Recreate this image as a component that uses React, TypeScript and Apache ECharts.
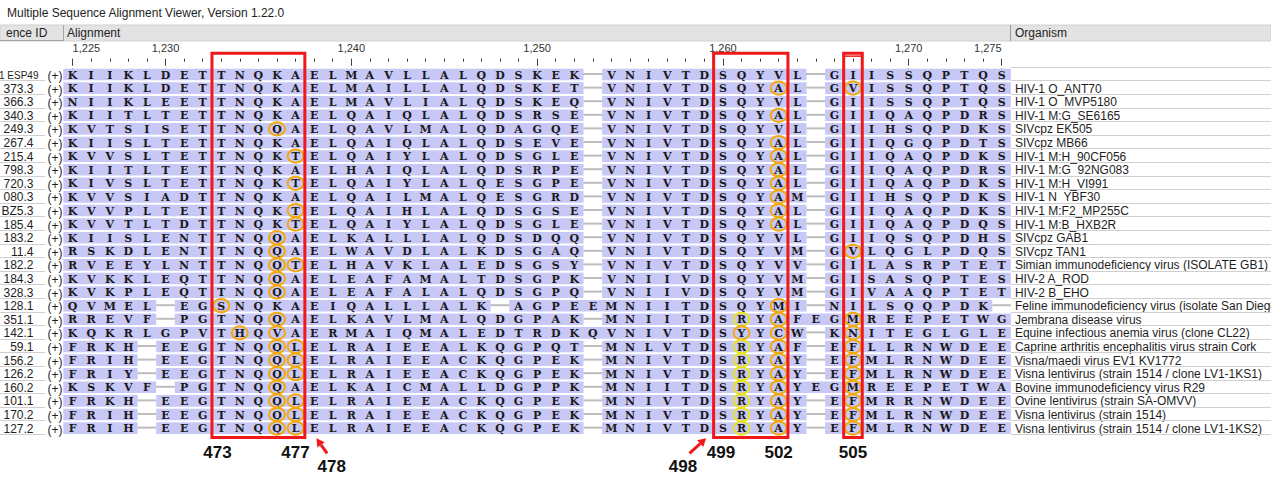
import React, { useEffect, useRef } from 'react';
import * as echarts from 'echarts';

// ---------------- data ----------------
const TITLE = 'Multiple Sequence Alignment Viewer, Version 1.22.0';
const FIRST_POS = 1225;
const LAST_POS = 1275;
const RULER_LABELS = [1225, 1230, 1240, 1250, 1260, 1270, 1275];

const SEQ_IDS = [
  '1 ESP49', '373.3', '366.3', '340.3', '249.3', '267.4', '215.4', '798.3', '720.3',
  '080.3', 'BZ5.3', '185.4', '183.2', '11.4', '182.2', '184.3', '328.3', '128.1',
  '351.1', '142.1', '59.1', '156.2', '126.2', '160.2', '101.1', '170.2', '127.2',
];

const ORGANISMS = [
  '',
  'HIV-1 O_ANT70',
  'HIV-1 O_MVP5180',
  'HIV-1 M:G_SE6165',
  'SIVcpz EK505',
  'SIVcpz MB66',
  'HIV-1 M:H_90CF056',
  'HIV-1 M:G_92NG083',
  'HIV-1 M:H_VI991',
  'HIV-1 N_YBF30',
  'HIV-1 M:F2_MP255C',
  'HIV-1 M:B_HXB2R',
  'SIVcpz GAB1',
  'SIVcpz TAN1',
  'Simian immunodeficiency virus (ISOLATE GB1)',
  'HIV-2 A_ROD',
  'HIV-2 B_EHO',
  'Feline immunodeficiency virus (isolate San Diego)',
  'Jembrana disease virus',
  'Equine infectious anemia virus (clone CL22)',
  'Caprine arthritis encephalitis virus strain Cork',
  'Visna/maedi virus EV1 KV1772',
  'Visna lentivirus (strain 1514 / clone LV1-1KS1)',
  'Bovine immunodeficiency virus R29',
  'Ovine lentivirus (strain SA-OMVV)',
  'Visna lentivirus (strain 1514)',
  'Visna lentivirus (strain 1514 / clone LV1-1KS2)',
];

const SEQUENCES = [
  'KIIKLDET TNQKA ELMAVLLALQDSKEK - VNIVTD SQYV L - G I ISSQPTQS',
  'KIIKLDET TNQKA ELMAILLALQDSKET - VNIVTD SQYA L - G V ISSQPTQS',
  'NIIKLEET TNQKA ELMAVLIALQDSKEQ - VNIVTD SQYV L - G I ISSQPTQS',
  'KIITLTET TNQKA ELQAIQLALQDSRSE - VNIVTD SQYA L - G I IQAQPDRS',
  'KVTSISET TNQQA ELQAVLMALQDAGQE - VNIVTD SQYV L - G I IHSQPDKS',
  'KIISLTET TNQKA ELQAIQLALQDSEVE - VNIVTD SQYA L - G I IQGQPDTS',
  'KVVSLTET TNQKT ELQAIYLALQDSGLE - VNIVTD SQYA L - G I IQAQPDKS',
  'KIITLTET TNQKA ELHAIQLALQDSRPE - VNIVTD SQYA L - G I IQAQPDRS',
  'KIVSLTET TNQKT ELQAIYLALQESGPE - VNIVTD SQYA L - G I IQAQPDKS',
  'KVVSIADT TNQKA ELQAILMALQESGRD - VNIVTD SQYA M - G I IHSQPDKS',
  'KVVPLTET TNQKT ELQAIHLALQDSGSE - VNIVTD SQYA L - G I IQAQPDKS',
  'KVVTLTDT TNQKT ELQAIYLALQDSGLE - VNIVTD SQYA L - G I IQAQPDQS',
  'KIISLENT TNQQA ELKALLLALQDSDQQ - VNIVTD SQYV L - G I IQSQPDHS',
  'RSKDLENT TNQQA ELWAVDLALKDSGAQ - VNIVTD SQYV M - G V LQGLPDQS',
  'RVEEYLNT TNQQT ELHAVKLALEDSGSY - VNIVTD SQYV V - G I LASRPTET',
  'KVKKLEQT TNQQA ELEAFAMALTDSGPK - VNIIVD SQYV M - G I SASQPTES',
  'KVKPLEQT TNQQA ELEAFALALQDSGPQ - VNIIVD SQYV M - G I VAAQPTET',
  'QVMEL-EG SNQKA EIQALLLALK-AGPE E MNIITD SQYM I - N I LSQQPDK-',
  'RREVF-PG TNQQA ELKAVLMALQDGPAK - MNIITD SRYA F E G M REEPETWG',
  'KQKRLGPV THQVA ERMAIQMALEDTRDK Q VNIVTD SYYC W - K N ITEGLGLE',
  'FRKH-EEG TNQQL ELRAIEEALKQGPQT - MNLVTD SRYA F - E F LLRNWDEE',
  'FRIH-EEG TNQQL ELRAIEEACKQGPEK - MNIVTD SRYA Y - E F MLRNWDEE',
  'FRIY-EEG TNQQL ELRAIEEACKQGPEK - MNIVTD SRYA Y - E F MLRNWDEE',
  'KSKVF-PG TNQQA ELKAICMALLDGPPK - MNIITD SRYA Y E G M REEPETWA',
  'FRKH-EEG TNQQL ELRAIEEACKQGPEK - MNIVTD SRYA Y - E F MRRNWDEE',
  'FRIH-EEG TNQQL ELRAIEEACKQGPEK - MNIVTD SRYA Y - E F MLRNWDEE',
  'FRIH-EEG TNQQL ELRAIEEACKQGPEK - MNIVTD SRYA Y - E F MLRNWDEE',
].map((s) => s.replace(/ /g, ''));

// [row, alignment position, kind]  o = orange ring, y = yellow ring
const HIGHLIGHTS: [number, number, string][] = [
  [1, 1263, 'o'], [1, 1267, 'o'],
  [3, 1263, 'o'],
  [4, 1236, 'o'],
  [5, 1263, 'o'],
  [6, 1237, 'o'], [6, 1263, 'o'],
  [7, 1263, 'o'],
  [8, 1237, 'o'], [8, 1263, 'o'],
  [9, 1263, 'o'],
  [10, 1237, 'o'], [10, 1263, 'o'],
  [11, 1237, 'o'], [11, 1263, 'o'],
  [12, 1236, 'o'],
  [13, 1236, 'o'], [13, 1267, 'o'],
  [14, 1236, 'o'], [14, 1237, 'o'],
  [15, 1236, 'o'],
  [16, 1236, 'o'],
  [17, 1233, 'o'], [17, 1263, 'o'],
  [18, 1236, 'o'], [18, 1261, 'y'], [18, 1263, 'o'], [18, 1267, 'o'],
  [19, 1234, 'o'], [19, 1236, 'o'], [19, 1261, 'o'], [19, 1263, 'o'], [19, 1267, 'o'],
  [20, 1236, 'o'], [20, 1237, 'o'], [20, 1261, 'y'], [20, 1263, 'o'], [20, 1267, 'o'],
  [21, 1236, 'o'], [21, 1237, 'o'], [21, 1261, 'y'], [21, 1263, 'o'], [21, 1267, 'o'],
  [22, 1236, 'o'], [22, 1237, 'o'], [22, 1261, 'y'], [22, 1263, 'o'], [22, 1267, 'o'],
  [23, 1236, 'o'], [23, 1261, 'y'], [23, 1263, 'o'], [23, 1267, 'o'],
  [24, 1236, 'o'], [24, 1237, 'o'], [24, 1261, 'y'], [24, 1263, 'o'], [24, 1267, 'o'],
  [25, 1236, 'o'], [25, 1237, 'o'], [25, 1261, 'y'], [25, 1263, 'o'], [25, 1267, 'o'],
  [26, 1236, 'o'], [26, 1237, 'o'], [26, 1261, 'y'], [26, 1263, 'o'], [26, 1267, 'o'],
];

// highlighted blocks: [first position, last position]
const BOXES: [number, number][] = [[1233, 1237], [1260, 1263], [1267, 1267]];
const BOX_TOP_ROW = -1.57;
const BOX_BOTTOM_ROW = 26.7;

// residue-number annotations: [alignment position, row level, text]
const NUMBER_LABELS: [number, number, string][] = [
  [1232.8, 27.8, '473'],
  [1237, 27.8, '477'],
  [1238.95, 28.85, '478'],
  [1257.85, 28.85, '498'],
  [1259.9, 27.8, '499'],
  [1263, 27.8, '502'],
  [1267, 27.8, '505'],
];
// arrows: [tail pos, tail row, tip pos, tip row]
const ARROWS: [number, number, number, number][] = [
  [1238.7, 27.85, 1238.12, 26.75],
  [1258.2, 27.85, 1259.1, 26.75],
];

// ---------------- helpers ----------------
const SANS = '"Liberation Sans", Arial, Helvetica, sans-serif';
const SEQ_FONT = '"DejaVu Serif", serif';
const BAND = '#c8c8f7';
const RED = '#f01818';
const ORANGE = '#f4a90a';
const YELLOW = '#e9e31c';

function runsOf(seq: string, wantGap: boolean): [number, number][] {
  const out: [number, number][] = [];
  let s = -1;
  for (let i = 0; i <= seq.length; i++) {
    const match = i < seq.length && (seq[i] === '-') === wantGap;
    if (match && s < 0) s = i;
    if (!match && s >= 0) {
      out.push([s, i - 1]);
      s = -1;
    }
  }
  return out;
}

const bandData: number[][] = [];
const gapData: number[][] = [];
const letterData: number[][] = [];
const letterChars: string[] = [];
SEQUENCES.forEach((seq, r) => {
  runsOf(seq, false).forEach(([a, b]) => bandData.push([FIRST_POS + a, FIRST_POS + b, r]));
  runsOf(seq, true).forEach(([a, b]) => gapData.push([FIRST_POS + a, FIRST_POS + b, r]));
  for (let c = 0; c < seq.length; c++) {
    if (seq[c] !== '-') {
      letterData.push([FIRST_POS + c, r]);
      letterChars.push(seq[c]);
    }
  }
});
const rowData = SEQ_IDS.map((_, r) => [FIRST_POS, r]);

export default function App() {
  const ref = useRef<HTMLDivElement>(null);

  useEffect(() => {
    if (!ref.current) return;
    const chart = echarts.init(ref.current, undefined, { renderer: 'svg' });

    const unit = (api: any) => {
      const s = api.size([1, 1]);
      return [Math.abs(s[0]), Math.abs(s[1])];
    };

    const option: any = {
      animation: false,
      grid: {
        left: 72.6,
        top: 67.7,
        width: 929,
        height: 367.2,
        containLabel: false,
        outerBoundsMode: 'none',
      },
      xAxis: [
        {
          type: 'value',
          min: FIRST_POS,
          max: LAST_POS,
          position: 'top',
          offset: 6,
          axisLine: { show: true, lineStyle: { color: '#3a3a3a', width: 1 } },
          axisTick: { show: true, length: 6, customValues: RULER_LABELS, lineStyle: { color: '#3a3a3a' } },
          axisLabel: {
            show: true,
            customValues: RULER_LABELS,
            margin: 8,
            fontSize: 11,
            color: '#333',
            fontFamily: SANS,
            alignMinLabel: 'left',
            alignMaxLabel: 'right',
            formatter: (v: number) => v.toLocaleString('en-US'),
          },
          splitLine: { show: false },
        },
        {
          type: 'value',
          min: FIRST_POS,
          max: LAST_POS,
          interval: 1,
          position: 'top',
          offset: 6,
          axisLine: { show: false },
          axisTick: { show: true, length: 3, lineStyle: { color: '#3a3a3a' } },
          axisLabel: { show: false },
          splitLine: { show: false },
        },
        {
          type: 'value',
          min: FIRST_POS,
          max: LAST_POS,
          position: 'top',
          offset: 6,
          axisLine: { show: false },
          axisTick: { show: true, inside: true, length: 4, customValues: RULER_LABELS, lineStyle: { color: '#3a3a3a' } },
          axisLabel: { show: false },
          splitLine: { show: false },
        },
      ],
      yAxis: { type: 'value', min: -0.5, max: SEQUENCES.length - 0.5, inverse: true, show: false },
      graphic: {
        elements: [
          {
            type: 'text', x: 7, y: 13,
            style: { text: TITLE, fontSize: 12, fontFamily: SANS, fill: '#1e1e1e', verticalAlign: 'middle' },
          },
          { type: 'rect', shape: { x: 0, y: 25, width: 1271, height: 16 }, style: { fill: '#e3e3e3', stroke: '#d0d0d0', lineWidth: 1 } },
          { type: 'line', shape: { x1: 63.5, y1: 25, x2: 63.5, y2: 41 }, style: { stroke: '#a6a6a6', lineWidth: 1 } },
          { type: 'line', shape: { x1: 0, y1: 40.5, x2: 63, y2: 40.5 }, style: { stroke: '#a6a6a6', lineWidth: 1 } },
          { type: 'line', shape: { x1: 1010.5, y1: 25, x2: 1010.5, y2: 41 }, style: { stroke: '#9a9a9a', lineWidth: 1 } },
          { type: 'text', x: 6, y: 33, style: { text: 'ence ID', fontSize: 12, fontFamily: SANS, fill: '#1e1e1e', verticalAlign: 'middle' } },
          { type: 'text', x: 67, y: 33, style: { text: 'Alignment', fontSize: 12, fontFamily: SANS, fill: '#1e1e1e', verticalAlign: 'middle' } },
          { type: 'text', x: 1015, y: 33, style: { text: 'Organism', fontSize: 12, fontFamily: SANS, fill: '#1e1e1e', verticalAlign: 'middle' } },
        ],
      },
      series: [
        // row bands
        {
          type: 'custom', silent: true, z: 1,
          encode: { x: [0, 1], y: 2 },
          data: bandData,
          renderItem: (params: any, api: any) => {
            const p1 = api.coord([api.value(0), api.value(2)]);
            const p2 = api.coord([api.value(1), api.value(2)]);
            const [cw, rh] = unit(api);
            const h = rh - 2;
            return {
              type: 'rect',
              shape: { x: p1[0] - cw / 2, y: p1[1] - h / 2, width: p2[0] - p1[0] + cw, height: h },
              style: { fill: BAND },
            };
          },
        },
        // gap connectors
        {
          type: 'custom', silent: true, z: 1,
          encode: { x: [0, 1], y: 2 },
          data: gapData,
          renderItem: (params: any, api: any) => {
            const p1 = api.coord([api.value(0), api.value(2)]);
            const p2 = api.coord([api.value(1), api.value(2)]);
            const [cw] = unit(api);
            return {
              type: 'line',
              shape: { x1: p1[0] - cw / 2, y1: p1[1] - 0.5, x2: p2[0] + cw / 2, y2: p1[1] - 0.5 },
              style: { stroke: '#bdbdbd', lineWidth: 2 },
            };
          },
        },
        // residues
        {
          type: 'custom', silent: true, z: 3,
          data: letterData,
          renderItem: (params: any, api: any) => {
            const p = api.coord([api.value(0), api.value(1)]);
            return {
              type: 'text',
              x: p[0], y: p[1] + 0.5,
              style: {
                text: letterChars[params.dataIndex],
                fontSize: 11, fontWeight: 'bold', fontFamily: SEQ_FONT,
                fill: '#1a1a1a', align: 'center', verticalAlign: 'middle',
              },
            };
          },
        },
        // rings
        {
          type: 'custom', silent: true, z: 4,
          data: HIGHLIGHTS.map((h) => [h[1], h[0]]),
          renderItem: (params: any, api: any) => {
            const p = api.coord([api.value(0), api.value(1)]);
            const kind = HIGHLIGHTS[params.dataIndex][2];
            return {
              type: 'ellipse',
              shape: { cx: p[0], cy: p[1], rx: 8, ry: 6.6 },
              style: { fill: 'none', stroke: kind === 'y' ? YELLOW : ORANGE, lineWidth: 2 },
            };
          },
        },
        // row labels: IDs, strand, organism, separators
        {
          type: 'custom', silent: true, z: 2,
          data: rowData,
          renderItem: (params: any, api: any) => {
            const r = params.dataIndex;
            const p = api.coord([api.value(0), api.value(1)]);
            const pEnd = api.coord([LAST_POS, api.value(1)]);
            const [cw, rh] = unit(api);
            const orgX = pEnd[0] + cw / 2;
            const yb = Math.round(p[1] + rh / 2) - 0.5;
            const children: any[] = [
              {
                type: 'text', x: r === 0 ? 38.5 : 33.5, y: p[1] + 0.5,
                style: { text: SEQ_IDS[r], fontSize: r === 0 ? 10 : 12, fontFamily: SANS, fill: '#1e1e1e', align: 'right', verticalAlign: 'middle' },
              },
              {
                type: 'text', x: 55, y: p[1] + 1.5,
                style: { text: '(+)', fontSize: 12, fontFamily: SANS, fill: '#1e1e1e', align: 'center', verticalAlign: 'middle' },
              },
              {
                type: 'text', x: orgX + 4, y: p[1] + 0.5,
                style: { text: ORGANISMS[r], fontSize: 12, fontFamily: SANS, fill: '#1e1e1e', align: 'left', verticalAlign: 'middle' },
              },
              { type: 'line', shape: { x1: 0, y1: yb, x2: 45, y2: yb }, style: { stroke: '#cfcfcf', lineWidth: 1 } },
              { type: 'line', shape: { x1: orgX, y1: yb, x2: 1271, y2: yb }, style: { stroke: '#cfcfcf', lineWidth: 1 } },
            ];
            if (r === 0) {
              const yt = Math.round(p[1] - rh / 2) - 0.5;
              children.push({ type: 'line', shape: { x1: orgX, y1: yt, x2: 1271, y2: yt }, style: { stroke: '#cfcfcf', lineWidth: 1 } });
            }
            return { type: 'group', children };
          },
        },
        // red boxes
        {
          type: 'custom', silent: true, z: 5,
          encode: { x: [0, 1], y: [2, 3] },
          data: BOXES.map((b) => [b[0], b[1], BOX_TOP_ROW, BOX_BOTTOM_ROW]),
          renderItem: (params: any, api: any) => {
            const p1 = api.coord([api.value(0), api.value(2)]);
            const p2 = api.coord([api.value(1), api.value(3)]);
            const [cw] = unit(api);
            const x = p1[0] - cw / 2;
            const w = p2[0] - p1[0] + cw;
            const children: any[] = [
              {
                type: 'rect',
                shape: { x, y: p1[1], width: w, height: p2[1] - p1[1] },
                style: { fill: 'none', stroke: RED, lineWidth: 3 },
              },
            ];
            if (api.value(0) === api.value(1)) {
              children.push({
                type: 'line',
                shape: { x1: x, y1: p1[1] + 3, x2: x + w, y2: p1[1] + 3 },
                style: { stroke: RED, lineWidth: 1.5 },
              });
            }
            return { type: 'group', children };
          },
        },
        // residue numbers
        {
          type: 'custom', silent: true, z: 5,
          data: NUMBER_LABELS.map((l) => [l[0], l[1]]),
          renderItem: (params: any, api: any) => {
            const p = api.coord([api.value(0), api.value(1)]);
            return {
              type: 'text', x: p[0], y: p[1],
              style: {
                text: NUMBER_LABELS[params.dataIndex][2],
                fontSize: 17, fontWeight: 'bold', fontFamily: SANS,
                fill: '#111', align: 'center', verticalAlign: 'middle',
              },
            };
          },
        },
        // arrows
        {
          type: 'custom', silent: true, z: 5,
          encode: { x: [0, 2], y: [1, 3] },
          data: ARROWS,
          renderItem: (params: any, api: any) => {
            const t = api.coord([api.value(0), api.value(1)]);
            const h = api.coord([api.value(2), api.value(3)]);
            const dx = h[0] - t[0];
            const dy = h[1] - t[1];
            const len = Math.sqrt(dx * dx + dy * dy);
            const ux = dx / len;
            const uy = dy / len;
            const hl = 8;
            const hw = 4.5;
            const bx = h[0] - ux * hl;
            const by = h[1] - uy * hl;
            return {
              type: 'group',
              children: [
                { type: 'line', shape: { x1: t[0], y1: t[1], x2: bx, y2: by }, style: { stroke: RED, lineWidth: 3 } },
                {
                  type: 'polygon',
                  shape: { points: [[h[0], h[1]], [bx - uy * hw, by + ux * hw], [bx + uy * hw, by - ux * hw]] },
                  style: { fill: RED },
                },
              ],
            };
          },
        },
      ],
    };

    chart.setOption(option);
    return () => chart.dispose();
  }, []);

  return (
    <div
      ref={ref}
      style={{ position: 'fixed', left: 0, top: 0, width: 1271, height: 478, background: '#fff' }}
    />
  );
}
